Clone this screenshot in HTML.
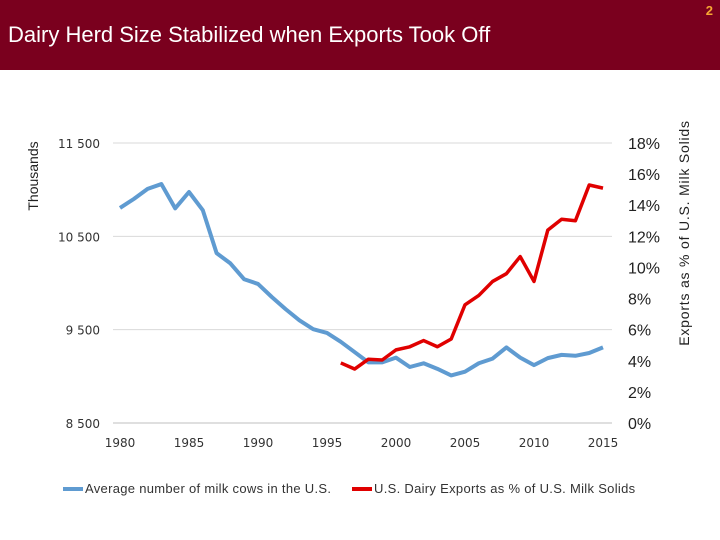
<!DOCTYPE html>
<html><head><meta charset="utf-8"><style>
body{margin:0;width:720px;height:540px;background:#fff;overflow:hidden;font-family:"Liberation Sans",sans-serif;}
#hdr{position:absolute;left:0;top:0;width:720px;height:70px;background:#7a001e;}
#title{position:absolute;left:8px;top:22px;color:#fff;font-size:22px;white-space:nowrap;}
#pg{position:absolute;right:7px;top:3px;color:#f6a733;font-size:13px;font-weight:bold;}
svg{position:absolute;left:0;top:0;}
</style></head><body>
<div id="hdr">
<div id="title">Dairy Herd Size Stabilized when Exports Took Off</div>
<div id="pg">2</div>
</div>
<svg id="chart" width="720" height="540"></svg>
<script>
const years=[1980,1981,1982,1983,1984,1985,1986,1987,1988,1989,1990,1991,1992,1993,1994,1995,1996,1997,1998,1999,2000,2001,2002,2003,2004,2005,2006,2007,2008,2009,2010,2011,2012,2013,2014,2015];
const cows=[10804,10900,11008,11060,10800,10975,10780,10320,10210,10040,9990,9850,9720,9600,9505,9465,9370,9260,9150,9150,9200,9100,9140,9080,9010,9050,9140,9190,9310,9200,9120,9195,9230,9220,9250,9310];
const exportYears=[1996,1997,1998,1999,2000,2001,2002,2003,2004,2005,2006,2007,2008,2009,2010,2011,2012,2013,2014,2015];
const exportsPct=[3.86,3.47,4.1,4.05,4.7,4.9,5.3,4.9,5.4,7.6,8.2,9.1,9.6,10.7,9.1,12.4,13.1,13.0,15.3,15.1];
const leftTicks=[8500,9500,10500,11500];
const leftLabels=["8 500","9 500","10 500","11 500"];
const rightTicks=[0,2,4,6,8,10,12,14,16,18];
const xTicks=[1980,1985,1990,1995,2000,2005,2010,2015];

const NS="http://www.w3.org/2000/svg";
const svg=document.getElementById('chart');
const X=y=>120+(y-1980)*(603-120)/35;
const YL=v=>423-(v-8500)*(423-143)/3000;
const YR=v=>423-v*(423-143)/18;
function mk(t,a,txt){const e=document.createElementNS(NS,t);for(const k in a)e.setAttribute(k,a[k]);if(txt!==undefined)e.textContent=txt;svg.appendChild(e);return e;}
leftTicks.forEach((v,i)=>{
 const g=mk('line',{x1:113,x2:612,y1:YL(v),y2:YL(v),stroke:i===0?'#bfbfbf':'#d9d9d9','stroke-width':1});
 
 const t=mk('text',{x:100,y:YL(v)+5,'text-anchor':'end','font-size':12,fill:'#333','font-family':'DejaVu Sans, sans-serif'},leftLabels[i]);
 
});
rightTicks.forEach(v=>{
 const t=mk('text',{x:628,y:YR(v)+6,'font-size':16,fill:'#222','font-family':'Liberation Sans, sans-serif'},v+'%');
 
});
xTicks.forEach(v=>{
 const t=mk('text',{x:X(v),y:447,'text-anchor':'middle','font-size':12,fill:'#333','font-family':'DejaVu Sans, sans-serif'},v);
 
});
const l1=mk('polyline',{points:years.map((y,i)=>X(y)+','+YL(cows[i])).join(' '),fill:'none',stroke:'#5f9bd1','stroke-width':4,'stroke-linejoin':'round'});

const l2=mk('polyline',{points:exportYears.map((y,i)=>X(y)+','+YR(exportsPct[i])).join(' '),fill:'none',stroke:'#e00000','stroke-width':3.5,'stroke-linejoin':'round'});

const yl=mk('text',{transform:'translate(38,176) rotate(-90)','text-anchor':'middle','font-size':14,fill:'#222','font-family':'Liberation Sans, sans-serif'},'Thousands');

const yr=mk('text',{transform:'translate(689,233) rotate(-90)','text-anchor':'middle','font-size':14,'letter-spacing':'0.8',fill:'#222','font-family':'Liberation Sans, sans-serif'},'Exports as % of U.S. Milk Solids');

const le1=mk('line',{x1:63,x2:83,y1:489,y2:489,stroke:'#5f9bd1','stroke-width':4});

const lt1=mk('text',{x:85,y:493,'font-size':13,'letter-spacing':'0.3',fill:'#333','font-family':'Liberation Sans, sans-serif'},'Average number of milk cows in the U.S.');

const le2=mk('line',{x1:352,x2:372,y1:489,y2:489,stroke:'#e00000','stroke-width':4});

const lt2=mk('text',{x:374,y:493,'font-size':13,'letter-spacing':'0.3',fill:'#333','font-family':'Liberation Sans, sans-serif'},'U.S. Dairy Exports as % of U.S. Milk Solids');

</script>
</body></html>
